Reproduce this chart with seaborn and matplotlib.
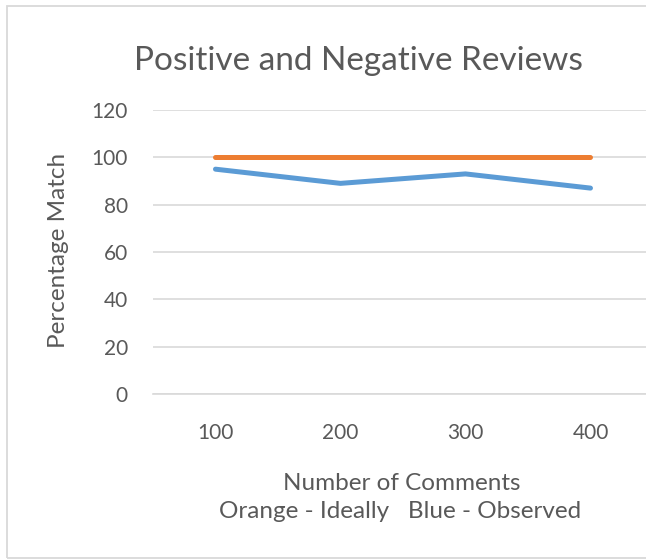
import matplotlib
matplotlib.use("Agg")
import matplotlib.pyplot as plt
import seaborn as sns
import pandas as pd
from matplotlib.patches import Rectangle

comments = ["100", "200", "300", "400"]
ideal = [100, 100, 100, 100]
observed = [95, 89, 93, 87]
y_ticks = [0, 20, 40, 60, 80, 100, 120]

sns.set_theme(style="white")
plt.rcParams["font.family"] = ["Lato", "DejaVu Sans"]

pos = list(range(len(comments)))
df = pd.DataFrame({
    "pos": pos * 2,
    "value": observed + ideal,
    "series": ["Observed"] * len(pos) + ["Ideally"] * len(pos),
})

fig = plt.figure(figsize=(6.46, 5.59), dpi=100)
# plot area runs a little past the right edge of the canvas
ax = fig.add_axes([0.2368, 0.2952, 0.774, 0.508])

sns.lineplot(data=df, x="pos", y="value", hue="series",
             palette={"Observed": "#5B9BD5", "Ideally": "#ED7D31"},
             hue_order=["Observed", "Ideally"],
             linewidth=3.6, legend=False, ax=ax,
             solid_capstyle="round", solid_joinstyle="round")

text_color = "#595959"
grid_color = "#D9D9D9"

ax.set_xlim(-0.5, len(comments) - 0.5)
ax.set_ylim(0, 120)
ax.set_yticks(y_ticks)
ax.set_xticks(pos)
ax.set_xticklabels(comments)
ax.yaxis.grid(True, color=grid_color, linewidth=1.2)
ax.xaxis.grid(False)
ax.set_axisbelow(True)
for s in ["top", "right", "left"]:
    ax.spines[s].set_visible(False)
ax.spines["bottom"].set_color(grid_color)
ax.spines["bottom"].set_linewidth(1.2)
ax.tick_params(axis="both", length=0, labelsize=15, colors=text_color)
ax.tick_params(axis="x", pad=21)
ax.tick_params(axis="y", pad=18)

ax.set_xlabel("")
ax.set_ylabel("")

fig.text(0.090, 1 - 250 / 559, "Percentage Match", rotation=90, ha="center",
         va="center", fontsize=17.5, color=text_color)
fig.text(358 / 646, 1 - 61 / 559, "Positive and Negative Reviews", ha="center",
         va="center", fontsize=24, color=text_color)
fig.text(402 / 646, 1 - 483 / 559, "Number of Comments", ha="center", va="center",
         fontsize=17.5, color=text_color)
fig.text(400 / 646, 1 - 512 / 559, "Orange - Ideally   Blue - Observed", ha="center",
         va="center", fontsize=17.5, color=text_color)

# chart frame: left, top and bottom edges (the right edge lies off-canvas)
fig.patches.append(Rectangle((7 / 646, 1.5 / 559), 1.2, 1 - 7.5 / 559,
                             transform=fig.transFigure, fill=False,
                             edgecolor=grid_color, linewidth=1.3))

fig.savefig("out.png", dpi=100)
